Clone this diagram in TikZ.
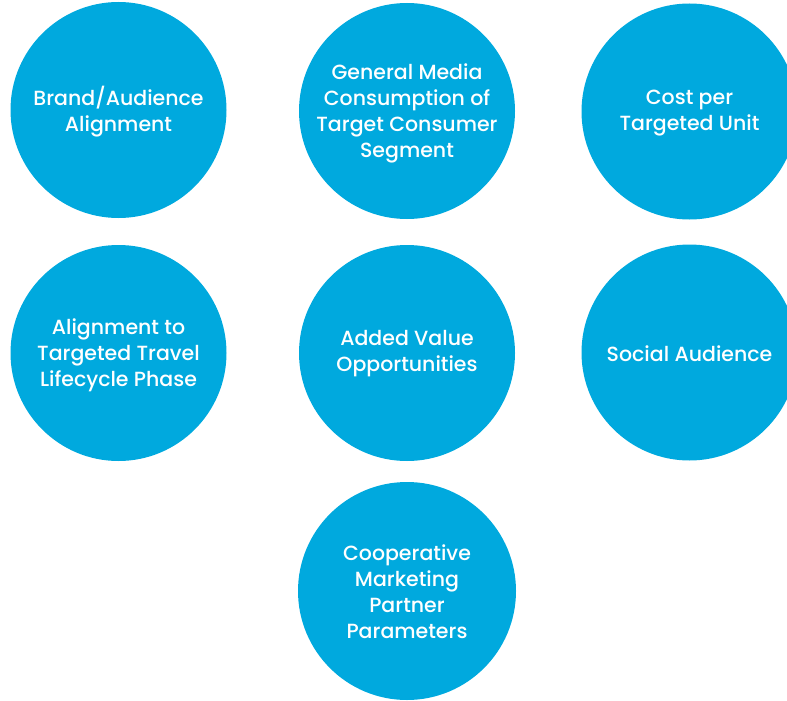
\documentclass[tikz,border=0pt]{standalone}
\usepackage{fontspec}
\setmainfont{Poppins Medium}
\definecolor{cblue}{HTML}{00A9DE}
\begin{document}
\begin{tikzpicture}[x=1pt,y=-1pt,
  bubble/.style={circle,fill=cblue,minimum size=216pt,inner sep=0pt},
  btext/.style={text=white,align=center,inner sep=0pt,font=\fontsize{20.5}{26}\selectfont}]
\useasboundingbox (0,0) rectangle (787,701);
\clip (0,0) rectangle (787,701);
\node[bubble] (c1) at (118.5,110) {};
\node[bubble] (c2) at (407,111) {};
\node[bubble] (c3) at (689.5,111.5) {};
\node[bubble] (c4) at (118.5,353) {};
\node[bubble] (c5) at (407,353) {};
\node[bubble] (c6) at (689.5,352.5) {};
\node[bubble,minimum size=218pt] (c7) at (407,591) {};
\node[btext] (t1) at ([yshift=-2pt]c1.center) {Brand/Audience\\Alignment};
\node[btext] (t2) at ([yshift=-2pt]c2.center) {General Media\\Consumption of\\Target Consumer\\Segment};
\node[btext] (t3) at ([yshift=-2pt]c3.center) {Cost per\\Targeted Unit};
\node[btext] (t4) at ([yshift=-2pt]c4.center) {Alignment to\\Targeted Travel\\Lifecycle Phase};
\node[btext] (t5) at ([yshift=-1pt]c5.center) {Added Value\\Opportunities};
\node[btext] (t6) at ([yshift=-1pt]c6.center) {Social Audience};
\node[btext] (t7) at ([yshift=-1pt]c7.center) {Cooperative\\Marketing\\Partner\\Parameters};
\end{tikzpicture}
\end{document}
